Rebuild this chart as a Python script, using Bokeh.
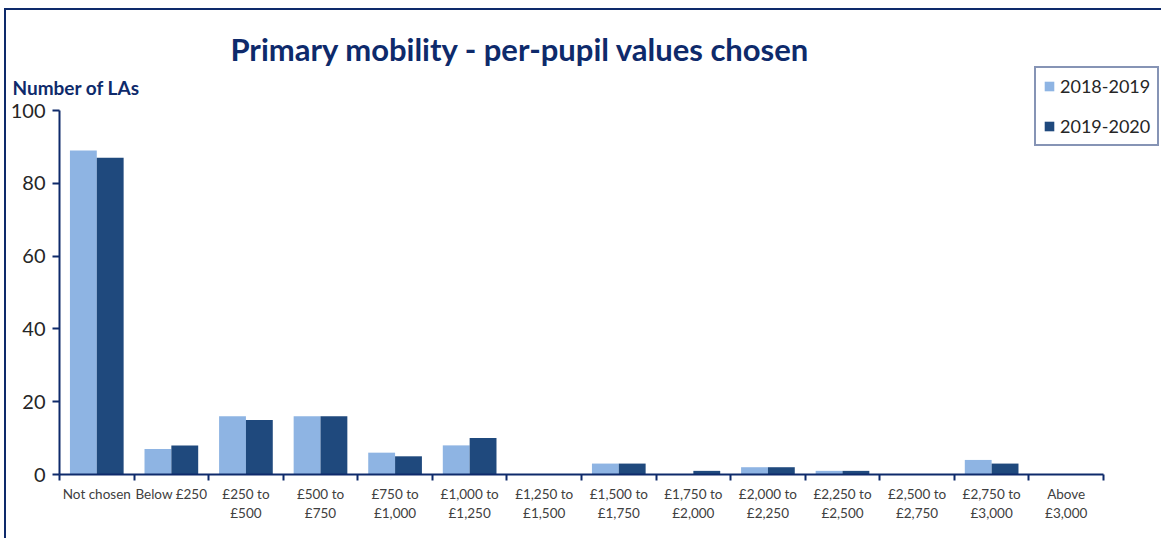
import numpy as np
from bokeh.plotting import figure
from bokeh.models import (ColumnDataSource, Range1d, FixedTicker, Label, Legend, LegendItem)
from bokeh.embed import file_html
from bokeh.resources import INLINE

categories = ["Not chosen", "Below £250", "£250 to\n£500", "£500 to\n£750", "£750 to\n£1,000",
              "£1,000 to\n£1,250", "£1,250 to\n£1,500", "£1,500 to\n£1,750", "£1,750 to\n£2,000",
              "£2,000 to\n£2,250", "£2,250 to\n£2,500", "£2,500 to\n£2,750", "£2,750 to\n£3,000",
              "Above\n£3,000"]
series_names = ["2018-2019", "2019-2020"]
values_2018 = [89, 7, 16, 16, 6, 8, 0, 3, 0, 2, 1, 0, 4, 0]
values_2019 = [87, 8, 15, 16, 5, 10, 0, 3, 1, 2, 1, 0, 3, 0]
y_ticks = [0, 20, 40, 60, 80, 100]
chart_title = "Primary mobility - per-pupil values chosen"
y_caption = "Number of LAs"

LIGHT = "#8EB4E3"
DARK = "#1F497D"
NAVY = "#0E2A6B"
FONT = "Lato"

# layout (page pixels)
OX, OY = 6, 10           # canvas origin on the page
W, H = 1157, 530
AX_LEFT, AX_RIGHT = 59, 1103   # x extent of the category axis
Y_TOP, Y_BOT = 110, 474        # pixel of y=100 and y=0

n = len(categories)
ymax_val = y_ticks[-1]
px_x = (AX_RIGHT - AX_LEFT) / n
px_y = (Y_BOT - Y_TOP) / ymax_val
x_start = -(AX_LEFT - OX) / px_x
x_end = (OX + W - AX_LEFT) / px_x
y_end = (Y_BOT - OY) / px_y
y_start = -(OY + H - Y_BOT) / px_y

centers = np.arange(n) + 0.5
bw = 0.36

src = ColumnDataSource(dict(x1=centers - bw / 2, x2=centers + bw / 2,
                            v1=values_2018, v2=values_2019))

p = figure(width=W, height=H, output_backend="svg", toolbar_location=None,
           x_range=Range1d(x_start, x_end), y_range=Range1d(y_start, y_end),
           min_border_left=0, min_border_right=0, min_border_top=0, min_border_bottom=0)
p.styles = {"margin-left": "4px", "margin-top": "8px",
            "border-top": "2px solid #0E2A6B", "border-left": "2px solid #0E2A6B"}
p.outline_line_color = None
p.grid.visible = False
p.background_fill_color = "white"
p.border_fill_color = "white"

r1 = p.vbar(x="x1", top="v1", width=bw, bottom=0, source=src, fill_color=LIGHT, line_color=None)
r2 = p.vbar(x="x2", top="v2", width=bw, bottom=0, source=src, fill_color=DARK, line_color=None)

# x axis, drawn at y = 0 inside the frame
p.xaxis.fixed_location = 0
p.xaxis.ticker = FixedTicker(ticks=list(centers), minor_ticks=list(np.arange(n + 1)))
p.xaxis.bounds = (0, n)
p.xaxis.major_label_overrides = {float(c): lab for c, lab in zip(centers, categories)}
p.xaxis.major_tick_line_color = None
p.xaxis.minor_tick_in = 0
p.xaxis.minor_tick_out = 6
p.xaxis.minor_tick_line_color = NAVY
p.xaxis.minor_tick_line_width = 2
p.xaxis.axis_line_color = NAVY
p.xaxis.axis_line_width = 2
p.xaxis.major_label_text_font = FONT
p.xaxis.major_label_text_font_size = "13.5px"
p.xaxis.major_label_text_color = "#404040"
p.xaxis.major_label_standoff = 5

# y axis, drawn at x = 0 inside the frame
p.yaxis.fixed_location = 0
p.yaxis.bounds = (0, ymax_val)
p.yaxis.ticker = FixedTicker(ticks=y_ticks, minor_ticks=[])
p.yaxis.major_tick_in = 0
p.yaxis.major_tick_out = 7
p.yaxis.major_tick_line_color = NAVY
p.yaxis.major_tick_line_width = 2
p.yaxis.axis_line_color = NAVY
p.yaxis.axis_line_width = 2
p.yaxis.major_label_text_font = FONT
p.yaxis.major_label_text_font_size = "20px"
p.yaxis.major_label_text_color = "#262626"
p.yaxis.major_label_standoff = 7

# title and axis caption
p.add_layout(Label(x=(520 - AX_LEFT) / px_x, y=(Y_BOT - 48) / px_y, text=chart_title,
                   text_font=FONT, text_font_style="bold", text_font_size="31px",
                   text_color=NAVY, text_align="center", text_baseline="middle"))
p.add_layout(Label(x=(12 - AX_LEFT) / px_x, y=(Y_BOT - 87) / px_y, text=y_caption,
                   text_font=FONT, text_font_style="bold", text_font_size="19px",
                   text_color=NAVY, text_align="left", text_baseline="middle"))

legend = Legend(items=[LegendItem(label=series_names[0], renderers=[r1]),
                       LegendItem(label=series_names[1], renderers=[r2])],
                location=(1034 - OX, OY + H - 146), orientation="vertical",
                border_line_color=NAVY, border_line_width=2,
                label_text_font=FONT, label_text_font_size="18px", label_text_color="#262626",
                glyph_width=12, glyph_height=12, label_height=20, spacing=18,
                padding=7, margin=0, background_fill_alpha=1)
p.add_layout(legend)

open("out.html", "w").write(file_html(p, INLINE))
